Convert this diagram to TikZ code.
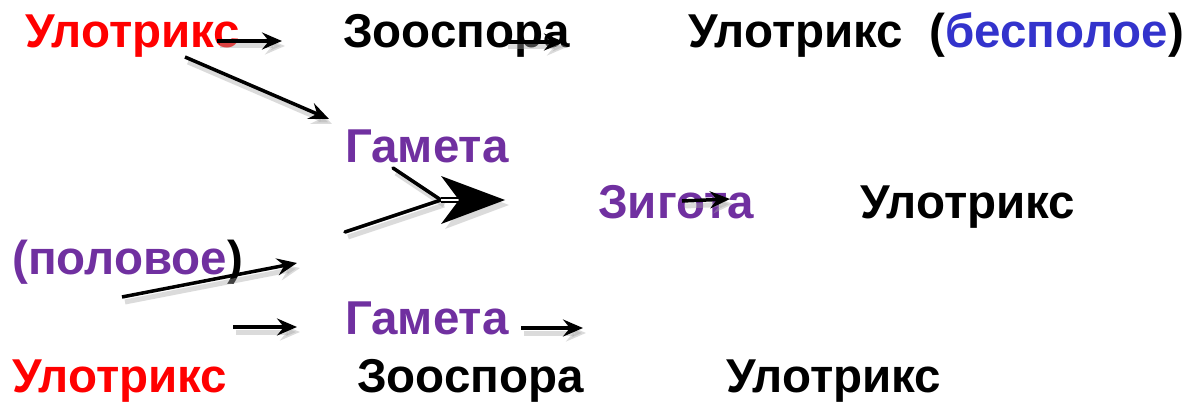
\documentclass[tikz,border=0pt]{standalone}
\usepackage{fontspec}
\setmainfont{Liberation Sans}
\usetikzlibrary{arrows.meta}
\definecolor{ured}{HTML}{FF0000}
\definecolor{upurple}{HTML}{7030A0}
\definecolor{ublue}{HTML}{3333CC}

\begin{document}
\begin{tikzpicture}[x=1pt,y=-1pt,
  lbl/.style={inner sep=0pt, anchor=base west,
    font=\fontsize{47.5}{52}\selectfont\bfseries},
  shadowed/.style={preaction={draw=black!35, opacity=.4, line width=5pt,
    transform canvas={shift={(3pt,-5pt)}}}},
  arr/.style={line width=3.5pt, shadowed,
    -{Stealth[length=20pt,width=17pt,inset=7pt]}},
  bar/.style={line width=3.5pt, shadowed, line cap=round}]
\useasboundingbox (0,0) rectangle (1188,404);

% row 1: asexual cycle
\node[lbl, text=ured]  (u1) at (25,48)  {Улотрикс};
\node[lbl]             (z1) at (343,48) {Зооспора};
\node[lbl]             (u2) at (688,48) {Улотрикс};
\node[lbl]             (b1) at (929,48) {(\textcolor{ublue}{бесполое})};

% rows 2-3: sexual cycle
\node[lbl, text=upurple] (g1) at (345,162) {Гамета};
\node[lbl, text=upurple] (zy) at (598,218) {Зигота};
\node[lbl]               (u3) at (860,218) {Улотрикс};
\node[lbl, text=upurple] (p1) at (12,274)  {(половое\textcolor{black}{)}};
\node[lbl, text=upurple] (g2) at (345,334) {Гамета};

% row 4
\node[lbl, text=ured] (u4) at (12,392)  {Улотрикс};
\node[lbl]            (z2) at (357,392) {Зооспора};
\node[lbl]            (u5) at (726,392) {Улотрикс};

% arrow end points
\coordinate (a1s) at (217,41);  \coordinate (a1e) at (282,41);
\coordinate (a2s) at (505,42);  \coordinate (a2e) at (564,42);
\coordinate (a3s) at (185,57);  \coordinate (a3e) at (329,119);
\coordinate (a4s) at (682,201); \coordinate (a4e) at (730,199);
\coordinate (a5s) at (122,297); \coordinate (a5e) at (297,263);
\coordinate (a6s) at (233,327); \coordinate (a6e) at (297,327);
\coordinate (a7s) at (521,328); \coordinate (a7e) at (583,328);

\draw[arr] (a1s) -- (a1e);
\draw[arr] (a2s) -- (a2e);
\draw[arr] (a3s) -- (a3e);
\draw[arr] (a4s) -- (a4e);
\draw[arr] (a5s) -- (a5e);
\draw[arr] (a6s) -- (a6e);
\draw[arr] (a7s) -- (a7e);

% fusion of the two gametes
\coordinate (j)  at (441,200);
\coordinate (f1) at (393,168);
\coordinate (f2) at (345,232);
\coordinate (ht) at (505,200);
\draw[bar] (f1) -- (j);
\draw[bar] (f2) -- (j);
\fill[black!35, opacity=.4] ([shift={(4,5)}]ht) -- ([shift={(4,5)}]441,176)
  -- ([shift={(4,5)}]459,200) -- ([shift={(4,5)}]441,224) -- cycle;
\draw[line width=1.6pt, double=white, double distance=2.4pt] (j) -- (466,200);
\fill (ht) -- (441,176) -- (459,200) -- (441,224) -- cycle;
\end{tikzpicture}
\end{document}
